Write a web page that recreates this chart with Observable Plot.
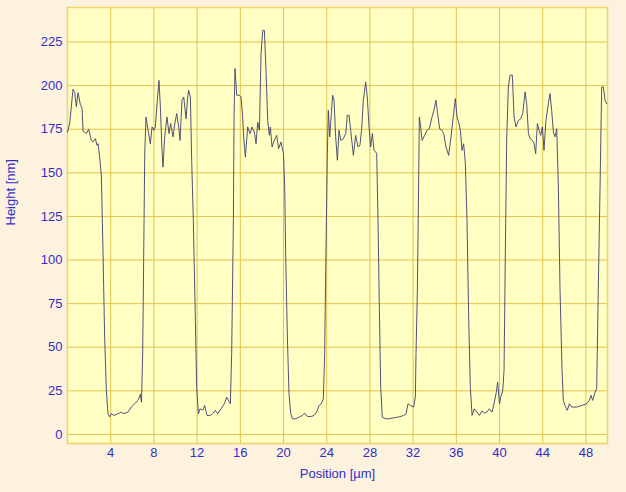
<!DOCTYPE html>
<html>
<head>
<meta charset="utf-8">
<script src="https://cdn.jsdelivr.net/npm/d3@7"></script>
<script src="https://cdn.jsdelivr.net/npm/@observablehq/plot@0.6"></script>
<style>
  html, body { margin: 0; padding: 0; background: #fdf2de; }
  #chart svg { display: block; }
</style>
</head>
<body>
<div id="chart"></div>
<script>
const position = [0.0,0.2,0.51,0.67,0.82,0.98,1.19,1.35,1.44,1.75,1.96,2.21,2.36,2.58,2.73,2.83,2.98,3.14,3.29,3.44,3.6,3.75,3.9,4.06,4.31,4.68,4.99,5.23,5.6,5.91,6.22,6.53,6.75,6.85,6.96,7.09,7.15,7.27,7.46,7.67,7.83,8.0,8.13,8.32,8.47,8.6,8.75,8.84,9.0,9.21,9.4,9.55,9.77,9.93,10.11,10.3,10.42,10.6,10.76,10.98,11.13,11.22,11.38,11.5,11.65,11.84,11.96,12.12,12.27,12.52,12.7,12.92,13.23,13.44,13.69,13.91,14.22,14.52,14.74,14.99,15.08,15.2,15.36,15.42,15.51,15.67,15.91,16.07,16.22,16.31,16.47,16.68,16.9,17.08,17.3,17.46,17.61,17.77,17.92,18.08,18.23,18.38,18.54,18.69,18.78,18.94,19.15,19.37,19.55,19.77,19.92,20.0,20.11,20.2,20.36,20.51,20.67,20.82,21.13,21.44,21.75,21.96,22.21,22.58,22.83,23.07,23.29,23.5,23.69,23.81,23.93,24.06,24.15,24.28,24.43,24.55,24.68,24.83,24.99,25.14,25.3,25.54,25.76,25.91,26.07,26.22,26.47,26.68,26.9,27.08,27.24,27.39,27.61,27.76,27.92,28.07,28.23,28.38,28.54,28.63,28.75,28.87,29.0,29.15,29.46,29.77,30.2,30.67,31.13,31.35,31.53,31.75,32.05,32.21,32.27,32.4,32.49,32.58,32.67,32.83,33.07,33.29,33.5,33.75,33.93,34.12,34.27,34.46,34.67,34.83,35.05,35.29,35.51,35.7,35.91,36.07,36.22,36.38,36.53,36.68,36.84,36.99,37.15,37.3,37.46,37.67,37.92,38.13,38.38,38.63,38.84,39.06,39.3,39.46,39.68,39.83,40.0,40.11,40.3,40.42,40.54,40.67,40.82,40.98,41.19,41.35,41.53,41.75,41.96,42.15,42.37,42.52,42.68,42.83,43.05,43.2,43.35,43.51,43.66,43.82,43.97,44.12,44.3,44.52,44.68,44.83,44.99,45.14,45.3,45.45,45.6,45.79,45.91,46.07,46.28,46.47,46.68,47.15,47.61,48.07,48.32,48.47,48.63,48.85,49.0,49.15,49.31,49.46,49.62,49.77,49.92];
const height = [173.4,178,198,196,188,196,189,187,174,172.5,175,168.6,167.7,169.6,165.8,166.7,159,147.6,103.6,55.8,25,11.9,10,11.9,10.9,11.9,12.8,11.9,12.8,15.7,17.6,19.5,23,18.5,46,122.8,161,182,174.4,166.7,176.3,174.4,176.3,191.6,203,187.8,163,153.3,170.6,182,172.5,178.2,170.6,178,184,176.3,168.6,191.6,193.5,181,193.5,197.3,193.5,157,122.8,65.4,27,11.9,14.7,13.8,16.6,10.9,10.9,11.9,13.8,11.9,14.7,17.6,21.4,18.5,17.6,46.3,122.8,182,209.8,194.5,194.5,193.5,182,170.6,159,176.3,172.5,176.3,173.4,166.7,179,174.4,218.4,231.7,231.7,208.8,180,171.5,176.3,164.8,168.6,171.5,163.9,167.7,162.9,161,141.9,103.6,55.8,23.3,11.9,9,9,9.9,10.9,12.2,10.3,10.3,10.9,12.8,16.6,17.6,20.5,46.3,103.6,161,185.8,170.6,184,194.5,191.6,170.6,157.2,174.4,168.6,169.6,172.5,183,183,174.4,160,171.5,164.8,165.8,175.3,191.6,202,193.5,176.3,164.8,172.5,162.9,162,161,122.8,75,27,9.9,9,9,9.5,10,10.9,11.9,17.6,16.6,15.7,21.4,46.3,84.5,132.3,182,178.2,168.6,171.5,174.4,175.3,182,185.8,191.6,184,175.3,174.4,172.5,164.8,160,170.6,181,192.6,182,179,174.4,162.9,166.7,155.3,122.8,65.4,27,10.9,14.7,12.8,10.9,13.4,12.2,12.8,14.7,12.8,16.6,23.3,30,17.6,21.4,25.2,36.7,103.6,170.6,199.2,206,206,182,176.3,180,181,184,196.4,189.7,172.5,169.6,168.6,166.7,161,178.2,174.4,171.5,176.3,162.9,180,189.7,195.4,185.8,173.4,170.6,175.3,141.9,84.5,36.7,19.5,16.6,13.8,17.6,15.7,15.7,16.6,17.6,19.5,22.4,19.5,24.3,26.2,84.5,141.9,199.2,199.2,191.6,189.7];
const xTicks = [4,8,12,16,20,24,28,32,36,40,44,48];
const yTicks = [0,25,50,75,100,125,150,175,200,225];
const xTitle = "Position [µm]";
const yTitle = "Height [nm]";

const data = position.map((p, i) => ({p, h: height[i]}));
const grid = "#e3c24a";
const textColor = "#2f2fc8";

const chart = Plot.plot({
  width: 626,
  height: 492,
  marginLeft: 67,
  marginRight: 19,
  marginTop: 7,
  marginBottom: 49,
  style: {background: "#fdf2de", color: textColor, fontSize: "13px", fontFamily: "'Liberation Sans', Arial, sans-serif"},
  x: {domain: [0, 50]},
  y: {domain: [-5.2, 244.8]},
  marks: [
    Plot.frame({fill: "#ffffc4", stroke: null}),
    Plot.gridX(xTicks, {stroke: grid, strokeOpacity: 1, strokeWidth: 1}),
    Plot.gridY(yTicks, {stroke: grid, strokeOpacity: 1, strokeWidth: 1}),
    Plot.frame({stroke: "#ecd36a", strokeWidth: 1.5}),
    Plot.axisX(xTicks, {tickSize: 0, tickPadding: 4, label: null, fill: textColor, fontSize: 13}),
    Plot.axisY(yTicks, {tickSize: 0, tickPadding: 5, label: null, fill: textColor, fontSize: 13}),
    Plot.line(data, {x: "p", y: "h", stroke: "#3e3e6e", strokeWidth: 0.9}),
    Plot.text([xTitle], {frameAnchor: "bottom", dy: 34, fill: textColor, fontSize: 13}),
    Plot.text([yTitle], {frameAnchor: "left", dx: -57, rotate: -90, fill: textColor, fontSize: 13})
  ]
});
document.getElementById("chart").appendChild(chart);
</script>
</body>
</html>
